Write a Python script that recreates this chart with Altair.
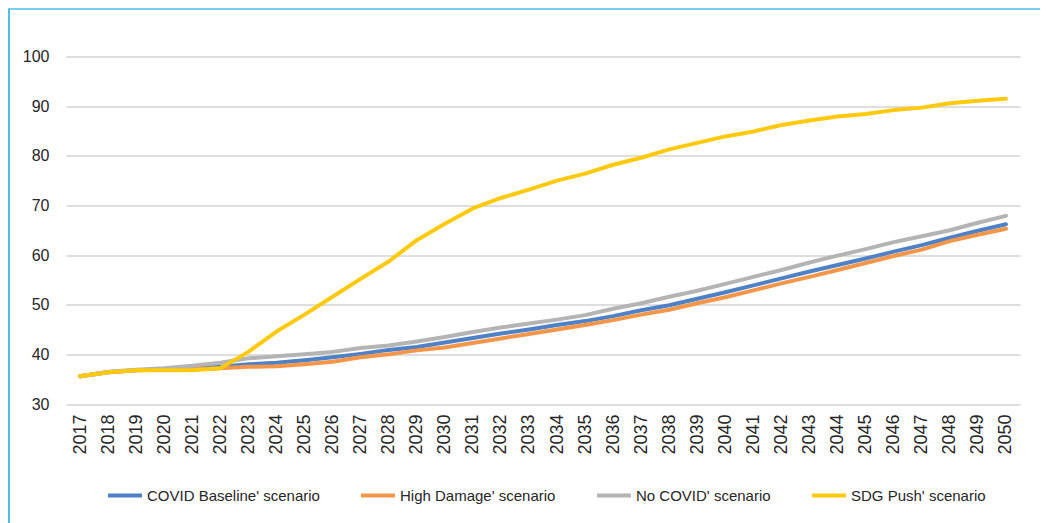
import altair as alt
import pandas as pd

years = [str(y) for y in range(2017, 2051)]

series_names = [
    "COVID Baseline' scenario",
    "High Damage' scenario",
    "No COVID' scenario",
    "SDG Push' scenario",
]
series_colors = ["#4F81C7", "#F4964A", "#B4B4B4", "#FFC90E"]

covid_baseline = [35.6, 36.4, 36.8, 37.0, 37.2, 37.5, 38.0, 38.3, 38.8, 39.4,
                  40.1, 40.9, 41.5, 42.4, 43.3, 44.2, 45.0, 45.9, 46.7, 47.7,
                  48.9, 49.9, 51.2, 52.5, 53.9, 55.3, 56.7, 58.0, 59.3, 60.7,
                  62.0, 63.5, 64.9, 66.2]
high_damage = [35.6, 36.4, 36.8, 36.9, 37.0, 37.2, 37.5, 37.6, 38.0, 38.5,
               39.4, 40.0, 40.8, 41.4, 42.3, 43.2, 44.1, 45.0, 45.9, 46.9,
               48.0, 49.0, 50.3, 51.5, 52.9, 54.3, 55.6, 57.0, 58.4, 59.8,
               61.1, 62.8, 64.1, 65.3]
no_covid = [35.6, 36.5, 36.9, 37.2, 37.7, 38.3, 39.2, 39.6, 40.0, 40.5,
            41.3, 41.8, 42.6, 43.5, 44.5, 45.4, 46.2, 47.0, 47.9, 49.2,
            50.3, 51.6, 52.8, 54.2, 55.6, 57.0, 58.5, 59.9, 61.2, 62.6,
            63.8, 65.0, 66.5, 67.9]
sdg_push = [35.6, 36.4, 36.8, 36.8, 36.8, 37.2, 40.5, 44.6, 48.0, 51.6,
            55.2, 58.7, 63.0, 66.3, 69.4, 71.5, 73.2, 75.0, 76.4, 78.2,
            79.6, 81.3, 82.6, 83.9, 84.9, 86.2, 87.1, 87.9, 88.4, 89.2,
            89.7, 90.6, 91.1, 91.5]

y_ticks = [30, 40, 50, 60, 70, 80, 90, 100]

rows = []
for name, vals in zip(series_names, [covid_baseline, high_damage, no_covid, sdg_push]):
    for yr, v in zip(years, vals):
        rows.append({"year": yr, "value": v, "series": name})
df = pd.DataFrame(rows)

FONT = "Liberation Sans"
W, H = 954, 347.5

lines = alt.Chart(df).mark_line(strokeWidth=4, strokeCap="round", strokeJoin="round").encode(
    x=alt.X("year:O", sort=years, title=None,
            axis=alt.Axis(labelAngle=-90, labelFontSize=18, labelColor="#262626",
                          labelFont=FONT, labelPadding=10, ticks=False, domain=False,
                          grid=False)),
    y=alt.Y("value:Q", title=None,
            scale=alt.Scale(domain=[30, 100], nice=False, zero=False),
            axis=alt.Axis(values=y_ticks, labelFontSize=16, labelColor="#262626",
                          labelFont=FONT, labelPadding=17, ticks=False, domain=False,
                          grid=True, gridColor="#DEDEDE", gridWidth=2)),
    color=alt.Color("series:N", title=None,
                    scale=alt.Scale(domain=series_names, range=series_colors),
                    legend=alt.Legend(orient="none", legendX=40, legendY=420,
                                      direction="horizontal", columns=4,
                                      symbolType="stroke", symbolStrokeWidth=4,
                                      symbolSize=1156, labelOffset=3,
                                      columnPadding=33, labelFontSize=15,
                                      labelFont=FONT, labelColor="#262626",
                                      padding=0, labelLimit=300)),
    order=alt.Order("series:N"),
)

frame_df = pd.DataFrame({"k": [0]})
left_border = alt.Chart(frame_df).mark_rule(color="#4DBFEA", strokeWidth=2).encode(
    x=alt.value(-57), y=alt.value(-47.5), y2=alt.value(470))
top_border = alt.Chart(frame_df).mark_rule(color="#4DBFEA", strokeWidth=1.5).encode(
    x=alt.value(-58), x2=alt.value(990), y=alt.value(-47.5))

chart = alt.layer(lines, left_border, top_border).properties(
    width=W, height=H,
    autosize=alt.AutoSizeParams(type="none"),
    padding={"left": 58, "top": 48.5, "right": 20, "bottom": 140},
    background="white",
).configure_view(stroke=None)

chart.save("out.html", embed_options={"renderer": "svg", "actions": False})
